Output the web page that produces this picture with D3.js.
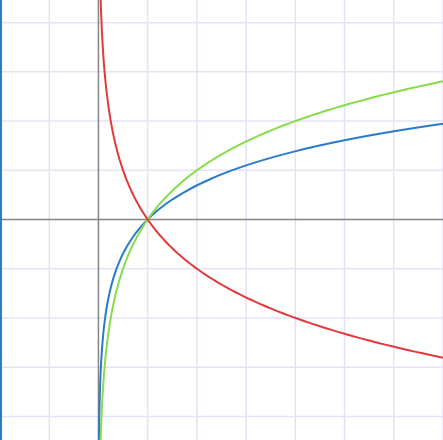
<!DOCTYPE html>
<html>
<head>
<meta charset="utf-8">
<script src="https://cdn.jsdelivr.net/npm/d3@7"></script>
<style>
  body { margin: 0; background: #fff; }
  svg { display: block; }
</style>
</head>
<body>
<div id="chart"></div>
<script>
// view window, in graph units
var xDomain = [-2, 7];
var yDomain = [-4.48, 4.46];
var gridX = [-2, -1, 0, 1, 2, 3, 4, 5, 6, 7];
var gridY = [-4, -3, -2, -1, 0, 1, 2, 3, 4];

// the three curves: y = log_b(x)
var curveNames = ["ln x", "log2 x", "log1/2 x"];
var curveBases = [Math.E, 2, 0.5];
var curveColors = ["#2a7bc9", "#88dc4c", "#e23a3b"];

var width = 443, height = 440;

var svg = d3.select("#chart")
  .append("svg")
  .attr("width", width)
  .attr("height", height);

var x = d3.scaleLinear().domain(xDomain).range([0, width]);
var y = d3.scaleLinear().domain(yDomain).range([height, 0]);

// grid
svg.append("g")
  .selectAll("line")
  .data(gridX.filter(function(d) { return d !== 0; }))
  .enter().append("line")
  .attr("x1", function(d) { return x(d); })
  .attr("x2", function(d) { return x(d); })
  .attr("y1", 0).attr("y2", height)
  .attr("stroke", "#e4e2f8")
  .attr("stroke-width", 1.5);

svg.append("g")
  .selectAll("line")
  .data(gridY.filter(function(d) { return d !== 0; }))
  .enter().append("line")
  .attr("y1", function(d) { return y(d); })
  .attr("y2", function(d) { return y(d); })
  .attr("x1", 0).attr("x2", width)
  .attr("stroke", "#e4e2f8")
  .attr("stroke-width", 1.5);

// axes
svg.append("line")
  .attr("x1", x(0)).attr("x2", x(0))
  .attr("y1", 0).attr("y2", height)
  .attr("stroke", "#858585").attr("stroke-width", 1.5);
svg.append("line")
  .attr("y1", y(0)).attr("y2", y(0))
  .attr("x1", 0).attr("x2", width)
  .attr("stroke", "#858585").attr("stroke-width", 1.5);

// sample x values, dense near zero
var xs = [];
for (var i = 0; i <= 400; i++) {
  xs.push(0.002 * Math.pow(xDomain[1] / 0.002, i / 400));
}

var line = d3.line()
  .x(function(d) { return x(d[0]); })
  .y(function(d) { return y(d[1]); });

svg.append("defs").append("clipPath").attr("id", "clip")
  .append("rect").attr("width", width).attr("height", height);

svg.append("g")
  .attr("clip-path", "url(#clip)")
  .selectAll("path")
  .data(curveBases)
  .enter().append("path")
  .attr("d", function(b) {
    return line(xs.map(function(v) { return [v, Math.log(v) / Math.log(b)]; }));
  })
  .attr("fill", "none")
  .attr("stroke", function(b, i) { return curveColors[i]; })
  .attr("stroke-width", 2)
  .attr("data-name", function(b, i) { return curveNames[i]; });

// left border
svg.append("line")
  .attr("x1", 1).attr("x2", 1)
  .attr("y1", 0).attr("y2", height)
  .attr("stroke", "#2a7bc9").attr("stroke-width", 2);
</script>
</body>
</html>
